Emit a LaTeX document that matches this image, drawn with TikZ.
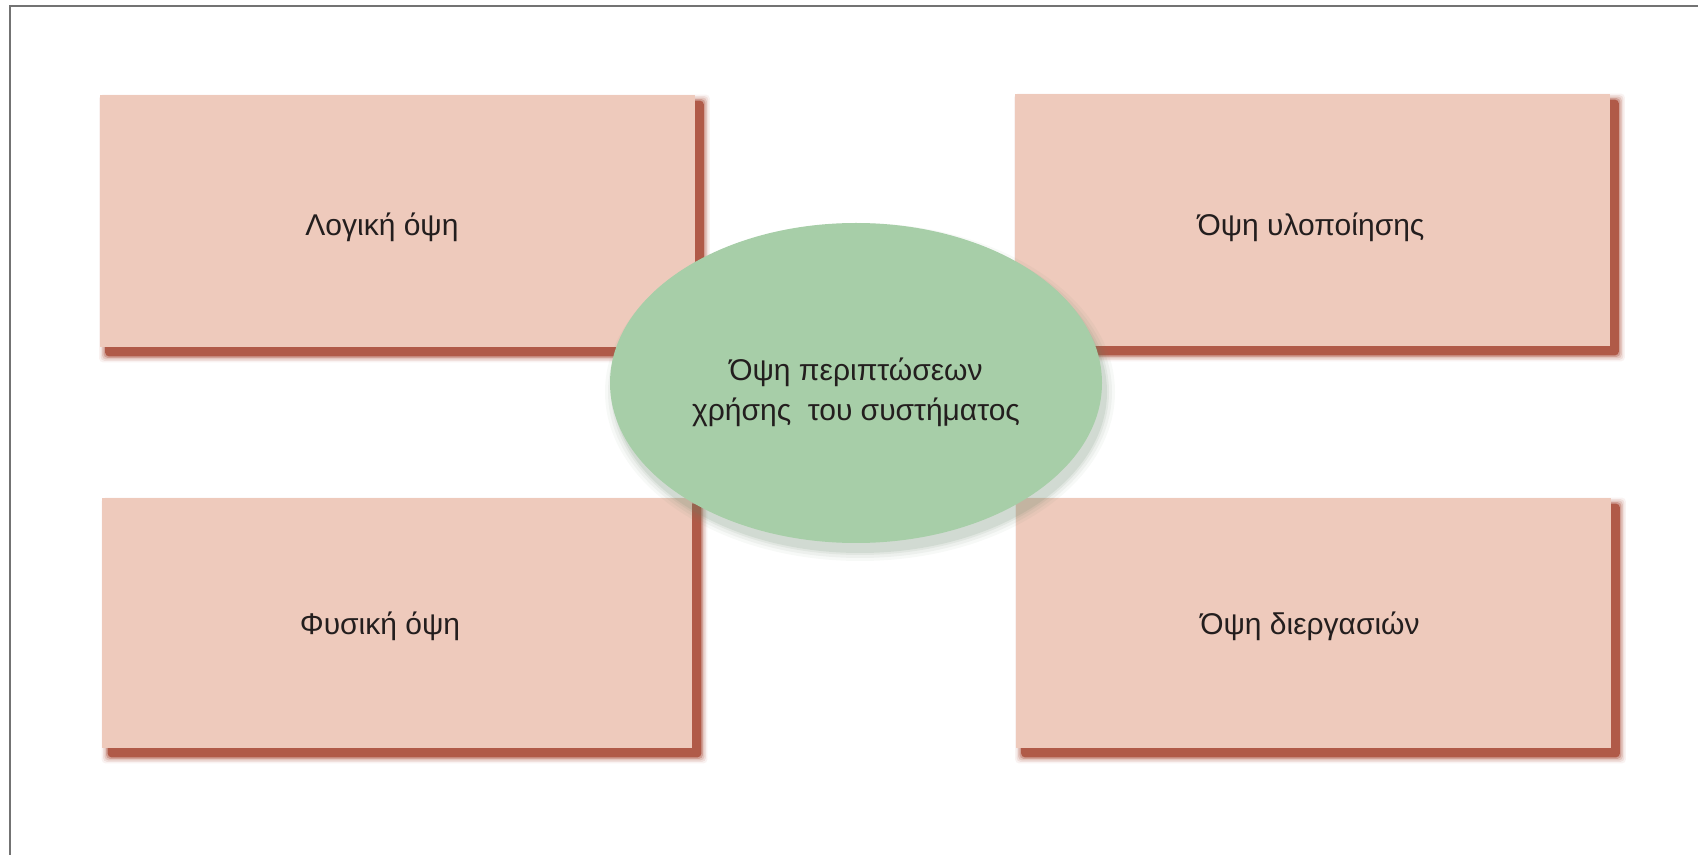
\documentclass[tikz,border=0pt]{standalone}
\usepackage{fontspec}
\setmainfont{Liberation Sans}
\usetikzlibrary{shapes.geometric}
\definecolor{boxfill}{RGB}{238,202,188}
\definecolor{shadowred}{RGB}{176,90,72}
\definecolor{ellfill}{RGB}{167,206,168}
\definecolor{ellshade}{RGB}{100,130,102}
\definecolor{framegray}{RGB}{115,115,115}
\definecolor{inkdark}{RGB}{35,30,30}
\pgfdeclarelayer{shadow}
\pgfdeclarelayer{front}
\pgfsetlayers{shadow,main,front}

\begin{document}
\begin{tikzpicture}[x=0.5pt,y=-0.5pt,
  viewbox/.style={rectangle, fill=boxfill, inner sep=0pt,
    minimum width=297.5pt, minimum height=126pt},
  viewlabel/.style={font=\fontsize{15}{18}\selectfont, text=inkdark, inner sep=0pt},
  usecase/.style={ellipse, fill=ellfill, inner sep=0pt,
    minimum width=246pt, minimum height=160pt},
  usecaselabel/.style={align=center, inner sep=0pt,
    font=\fontsize{15}{20}\selectfont, text=inkdark}]
\useasboundingbox (0,0) rectangle (1698,855);

% page frame (left and top edges)
\draw[framegray, line width=1pt] (10,858) -- (10,6) -- (1700,6);

% the four views
\node[viewbox] (logical) at (397,221) {};
\node[viewbox] (impl) at (1312,220) {};
\node[viewbox, minimum width=295pt, minimum height=125pt] (physical) at (397,623) {};
\node[viewbox, minimum height=125pt] (process) at (1313,623) {};

\node[viewlabel] (logicalText) at (382,227) {Λογική όψη};
\node[viewlabel] (implText) at (1311,227) {Όψη υλοποίησης};
\node[viewlabel] (physicalText) at (380,626) {Φυσική όψη};
\node[viewlabel] (processText) at (1310,626) {Όψη διεργασιών};

% soft drop shadows behind the boxes
\begin{pgfonlayer}{shadow}
\foreach \b in {logical,impl,physical,process}{
  \foreach \r/\o in {6/0.08,4.5/0.12,3/0.2,1.5/0.35,0/1}{
    \fill[shadowred, opacity=\o, rounded corners=2pt]
      ([shift={(6-\r,6-\r)}]\b.north west) rectangle ([shift={(9+\r,9+\r)}]\b.south east);
  }
}
\end{pgfonlayer}

% central use-case view with its shadow
\begin{pgfonlayer}{front}
\coordinate (ucc) at (856,383);
\foreach \r/\o in {9/0.05,6/0.07,3/0.09,1/0.12}{
  \fill[ellshade, opacity=\o] ([shift={(4,9)}]ucc) ellipse [x radius=246+\r, y radius=160+\r];
}
\node[usecase] (usecase) at (ucc) {};
\node[usecaselabel] (usecaseText) at ([shift={(0,9)}]usecase.center)
  {Όψη περιπτώσεων\\χρήσης~ του συστήματος};
\end{pgfonlayer}
\end{tikzpicture}
\end{document}
